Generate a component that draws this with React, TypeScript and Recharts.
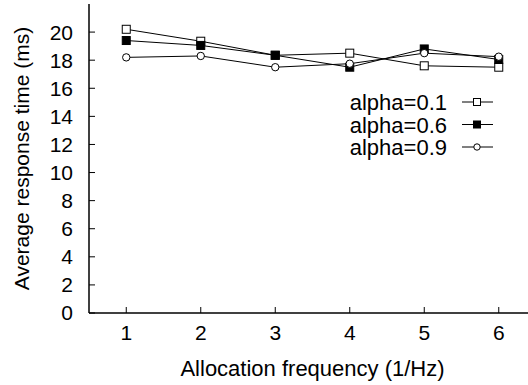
import { LineChart, Line, XAxis, YAxis } from "recharts";

const frequencies = [1, 2, 3, 4, 5, 6];
const alpha01 = [20.2, 19.35, 18.35, 18.5, 17.6, 17.5];
const alpha06 = [19.4, 19.05, 18.35, 17.5, 18.8, 18.05];
const alpha09 = [18.2, 18.3, 17.5, 17.75, 18.5, 18.25];
const yTicks = [0, 2, 4, 6, 8, 10, 12, 14, 16, 18, 20];

const FONT = "'Liberation Sans', Arial, Helvetica, sans-serif";

const rows = frequencies.map((f, i) => ({
  freq: f,
  a01: alpha01[i],
  a06: alpha06[i],
  a09: alpha09[i]
}));

const SERIES = [
  { key: "a01", name: "alpha=0.1", kind: "openSquare" },
  { key: "a06", name: "alpha=0.6", kind: "filledSquare" },
  { key: "a09", name: "alpha=0.9", kind: "circle" }
];

function Marker({ kind, cx, cy, s = 4 }: { kind: string; cx: number; cy: number; s?: number }) {
  if (kind === "openSquare") {
    return <rect x={cx - s} y={cy - s} width={2 * s} height={2 * s} fill="#fff" stroke="#000" strokeWidth={1} />;
  }
  if (kind === "filledSquare") {
    return <rect x={cx - s} y={cy - s} width={2 * s} height={2 * s} fill="#000" stroke="#000" strokeWidth={1} />;
  }
  return <circle cx={cx} cy={cy} r={s - 0.3} fill="#fff" stroke="#000" strokeWidth={1} />;
}

// legend drawn over the plot, gnuplot style: label right-aligned, sample line after it
function LegendBox() {
  return (
    <svg width={200} height={80} style={{ position: "absolute", left: 300, top: 90 }}>
      {SERIES.map((s, i) => {
        const y = 12 + i * 22.5;
        return (
          <g key={s.key}>
            <text x={147} y={y + 8} textAnchor="end" fontSize={22} fontFamily={FONT} fill="#000">
              {s.name}
            </text>
            <line x1={162} x2={193} y1={y} y2={y} stroke="#000" strokeWidth={1} />
            <Marker kind={s.kind} cx={177} cy={y} s={3.5} />
          </g>
        );
      })}
    </svg>
  );
}

function YLabel({ viewBox }: any) {
  const cx = 21;
  const cy = viewBox.y + viewBox.height / 2;
  return (
    <text x={cx} y={cy} transform={`rotate(-90 ${cx} ${cy})`} textAnchor="middle" dominantBaseline="central" fontSize={21} fontFamily={FONT} fill="#000">
      Average response time (ms)
    </text>
  );
}

function XLabel({ viewBox }: any) {
  const cx = viewBox.x + viewBox.width / 2;
  return (
    <text x={cx} y={376} textAnchor="middle" fontSize={22} fontFamily={FONT} fill="#000">
      Allocation frequency (1/Hz)
    </text>
  );
}

export default function App() {
  return (
    <div style={{ position: "absolute", left: 0, top: 0, width: 528, height: 385, overflow: "hidden", background: "#fff" }}>
      <LineChart width={541} height={385} data={rows} margin={{ top: 4, right: 5, bottom: 0, left: 0 }}>
        <XAxis
          dataKey="freq"
          type="number"
          domain={[0.5, 6.5]}
          ticks={frequencies}
          interval={0}
          height={72}
          axisLine={{ stroke: "#000", strokeWidth: 1.5 }}
          tickLine={{ stroke: "#000" }}
          tickSize={-6}
          tickMargin={18}
          tick={{ fill: "#000", fontSize: 21, fontFamily: FONT }}
          label={<XLabel />}
        />
        <XAxis
          xAxisId="top"
          dataKey="freq"
          type="number"
          orientation="top"
          domain={[0.5, 6.5]}
          ticks={frequencies}
          interval={0}
          height={0}
          axisLine={{ stroke: "#000", strokeWidth: 1.5 }}
          tickLine={{ stroke: "#000" }}
          tickSize={-6}
          tick={false}
        />
        <YAxis
          type="number"
          domain={[0, 22]}
          ticks={yTicks}
          interval={0}
          width={89}
          axisLine={{ stroke: "#000", strokeWidth: 1.5 }}
          tickLine={{ stroke: "#000" }}
          tickSize={-6}
          tickMargin={22}
          tick={{ fill: "#000", fontSize: 21, fontFamily: FONT }}
          label={<YLabel />}
        />
        <YAxis
          yAxisId="right"
          orientation="right"
          type="number"
          domain={[0, 22]}
          ticks={yTicks}
          interval={0}
          width={0}
          axisLine={{ stroke: "#000", strokeWidth: 1.5 }}
          tickLine={{ stroke: "#000" }}
          tickSize={-6}
          tick={false}
        />
        {SERIES.map((s) => (
          <Line
            key={s.key}
            dataKey={s.key}
            name={s.name}
            stroke="#000"
            strokeWidth={1}
            isAnimationActive={false}
            dot={(p: any) => <Marker key={`${s.key}-${p.index}`} kind={s.kind} cx={p.cx} cy={p.cy} />}
          />
        ))}
      </LineChart>
      <LegendBox />
    </div>
  );
}
